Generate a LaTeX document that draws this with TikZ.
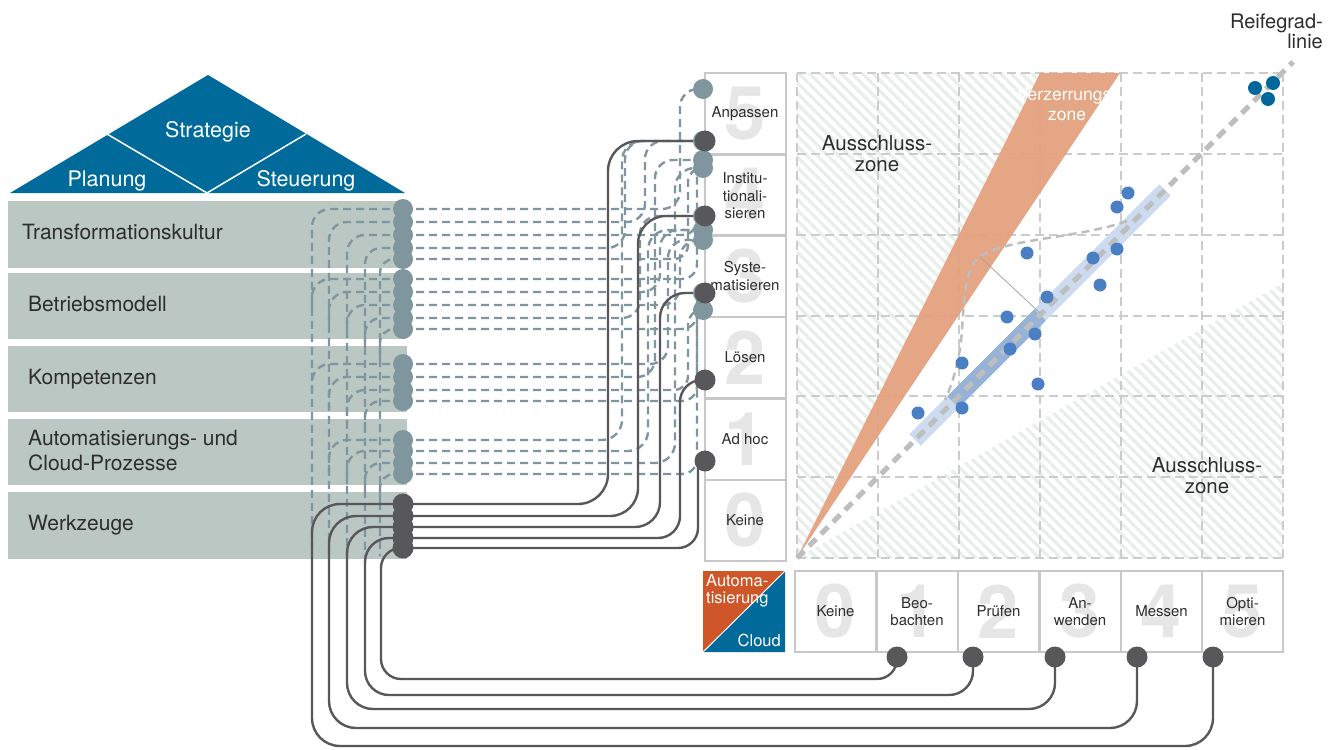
\documentclass[tikz,border=0pt]{standalone}
\usepackage{fontspec}
\setmainfont{TeX Gyre Heros}
\usetikzlibrary{patterns.meta}
\definecolor{roofblue}{RGB}{0,106,155}
\definecolor{rowgrey}{RGB}{186,199,195}
\definecolor{dashc}{RGB}{128,150,159}
\definecolor{darkc}{RGB}{88,88,90}
\definecolor{boxc}{RGB}{200,200,200}
\definecolor{digitc}{RGB}{230,230,230}
\definecolor{gridc}{RGB}{204,204,204}
\definecolor{hatchc}{RGB}{233,238,236}
\definecolor{bandor}{RGB}{227,160,123}
\definecolor{autoor}{RGB}{207,86,40}
\definecolor{dotblue}{RGB}{75,127,196}
\definecolor{dotdark}{RGB}{0,103,156}
\definecolor{bandlight}{RGB}{205,219,240}
\definecolor{banddark}{RGB}{150,178,214}
\definecolor{txt}{RGB}{45,45,45}
\definecolor{reifec}{RGB}{190,190,190}
\tikzset{
 rowlabel/.style={anchor=west, text=txt, font=\fontsize{21}{25}\selectfont, align=left, inner sep=0pt},
 rooflabel/.style={text=white, font=\fontsize{21.5}{26}\selectfont, inner sep=0pt},
 lvlbox/.style={draw=boxc, line width=2pt, minimum width=81pt, minimum height=81pt, inner sep=0pt},
 boxlabel/.style={text=txt, font=\fontsize{15}{17.5}\selectfont, align=center, inner sep=0pt},
 bigdigit/.style={text=digitc, font=\fontsize{74}{74}\selectfont\bfseries, inner sep=0pt},
 dl/.style={draw=dashc, line width=2.4pt, dash pattern=on 8pt off 5pt},
 sl/.style={draw=darkc, line width=2.4pt},
 gdot/.style={circle, fill=dashc, minimum size=20pt, inner sep=0pt},
 ddot/.style={circle, fill=darkc, minimum size=21pt, inner sep=0pt},
 gridln/.style={draw=gridc, line width=2pt, dash pattern=on 9pt off 5pt},
 zonelabel/.style={text=txt, font=\fontsize{20.5}{21}\selectfont, align=center, inner sep=0pt},
 hatchfill/.style={pattern={Lines[angle=-45,distance=7.5pt,line width=3.2pt]}, pattern color=hatchc},
}
\begin{document}
\begin{tikzpicture}[x=1pt,y=-1pt]
\useasboundingbox (0,0) rectangle (1337,749);
\fill[white] (0,0) rectangle (1337,749);

% ---------- roof ----------
\fill[roofblue] (10,193) -- (208,75) -- (405,193) -- cycle;
\draw[white, line width=1.5pt] (107,134) -- (207,193) -- (306,134);
\node[rooflabel] (strat) at (208,132) {Strategie};
\node[rooflabel] (plan) at (107,181) {Planung};
\node[rooflabel] (steu) at (306,181) {Steuerung};

% ---------- rows ----------
\fill[rowgrey] (8,201) rectangle (406,268);
\fill[rowgrey] (8,273) rectangle (406,339);
\fill[rowgrey] (8,346) rectangle (407,412);
\fill[rowgrey] (8,419) rectangle (407,485);
\fill[rowgrey] (8,492) rectangle (407,559);
\node[rowlabel] (row1) at (22,232) {Transformationskultur};
\node[rowlabel] (row2) at (28,304) {Betriebsmodell};
\node[rowlabel] (row3) at (28,379) {Kompetenzen};
\node[rowlabel] (row4) at (28,451) {Automatisierungs- und\\Cloud-Prozesse};
\node[rowlabel] (row5) at (28,525) {Werkzeuge};

% ---------- chart ----------
\path[hatchfill] (797,558) -- (797,73) -- (1040,73) -- cycle;
\path[hatchfill] (797,558) -- (1283,283) -- (1283,558) -- cycle;
\foreach \x in {797,878,959,1040,1121,1202,1283} \draw[gridln] (\x,73) -- (\x,558);
\foreach \y in {73,154,235,315.5,396,477,558} \draw[gridln] (797,\y) -- (1283,\y);
\fill[bandor, opacity=0.93] (797,558) -- (1040,73) -- (1120,73) -- cycle;
\node[text=white, font=\fontsize{17.5}{20}\selectfont, align=center, inner sep=0pt] (verz) at (1067,104) {Verzerrungs-\\zone};
\node[zonelabel] (aus1) at (877,154) {Ausschluss-\\zone};
\node[zonelabel] (aus2) at (1207,476) {Ausschluss-\\zone};
\draw[bandlight, line width=16pt] (915,440) -- (1165,190);
\draw[banddark, line width=16pt] (953,402) -- (1040,315);
\draw[reifec, line width=5pt, dash pattern=on 10pt off 7pt] (797,558) -- (1293,62);
\draw[reifec, line width=2.5pt, dash pattern=on 8pt off 5pt] (1127,221) .. controls (1080,238) and (1010,238) .. (980,256) .. controls (965,268) and (964,300) .. (962,330) .. controls (960,360) and (952,385) .. (945,400);
\draw[black!35, line width=0.8pt] (980,257) -- (1040,313);
\foreach \p in {(918,413),(962,363),(962,408),(1007,317),(1010,349),(1027,253),(1035,334),(1038,384),(1047,297),(1093,258),(1100,285),(1117,249),(1117,207),(1128,193)}
  \fill[dotblue] \p circle (6.5pt);
\foreach \p in {(1255,88),(1273,83),(1268,99)}
  \fill[dotdark] \p circle (7pt);
\node[anchor=north east, text=txt, font=\fontsize{20}{20}\selectfont, align=right, inner sep=0pt] (reife) at (1323,14) {Reifegrad-\\linie};

% ---------- level boxes ----------
\foreach \n/\y/\d in {L5/114/5, L4/194.5/4, L3/276/3, L2/357.5/2, L1/439/1, L0/520/0}{
  \node[bigdigit] (dig\n) at (745,\y) {\d};
  \node[lvlbox] (\n) at (745,\y) {};
}
\node[boxlabel] (lab5) at (L5) {Anpassen};
\node[boxlabel] (lab4) at (745,196) {Institu-\\tionali-\\sieren};
\node[boxlabel] (lab3) at (L3) {Syste-\\matisieren};
\node[boxlabel] (lab2) at (L2) {Lösen};
\node[boxlabel] (lab1) at (L1) {Ad hoc};
\node[boxlabel] (lab0) at (L0) {Keine};

% ---------- bottom boxes ----------
\foreach \n/\x/\d in {B0/835.5/0, B1/917/1, B2/998.5/2, B3/1080/3, B4/1161.5/4, B5/1242.5/5}{
  \node[bigdigit] (dig\n) at (\x,611.5) {\d};
  \node[lvlbox] (\n) at (\x,611.5) {};
}
\node[boxlabel] (blab0) at (B0) {Keine};
\node[boxlabel] (blab1) at (B1) {Beo-\\bachten};
\node[boxlabel] (blab2) at (B2) {Prüfen};
\node[boxlabel] (blab3) at (B3) {An-\\wenden};
\node[boxlabel] (blab4) at (B4) {Messen};
\node[boxlabel] (blab5) at (B5) {Opti-\\mieren};

% automation / cloud square
\fill[autoor] (703,571) -- (785,571) -- (703,652) -- cycle;
\fill[roofblue] (785,571) -- (785,652) -- (703,652) -- cycle;
\draw[white, line width=1pt] (703,652) -- (785,571);
\node[anchor=north west, text=white, font=\fontsize{16.5}{17}\selectfont, align=left, inner sep=0pt] (autotxt) at (706,574) {Automa-\\tisierung};
\node[anchor=base east, text=white, font=\fontsize{16.5}{17}\selectfont, inner sep=0pt] (cloudtxt) at (781,646) {Cloud};

% ---------- dot coordinates ----------
\coordinate (t1a) at (403,209); \coordinate (t1b) at (403,222); \coordinate (t1c) at (403,235);
\coordinate (t1d) at (403,248); \coordinate (t1e) at (403,259);
\coordinate (t2a) at (403,279); \coordinate (t2b) at (403,292); \coordinate (t2c) at (403,305);
\coordinate (t2d) at (403,318); \coordinate (t2e) at (403,329);
\coordinate (t3a) at (403,364); \coordinate (t3b) at (403,377); \coordinate (t3c) at (403,390);
\coordinate (t3d) at (403,401);
\coordinate (t4a) at (403,440); \coordinate (t4b) at (403,451); \coordinate (t4c) at (403,463);
\coordinate (t4d) at (403,474);
\coordinate (w1) at (403,504); \coordinate (w2) at (403,516); \coordinate (w3) at (403,527);
\coordinate (w4) at (403,538); \coordinate (w5) at (403,548);
\coordinate (g89) at (703,89); \coordinate (g141) at (703,141); \coordinate (g160) at (703,160);
\coordinate (g168) at (703,168); \coordinate (g216) at (703,216); \coordinate (g230) at (703,230);
\coordinate (g240) at (703,240); \coordinate (g293) at (703,293); \coordinate (g310) at (703,310);
\coordinate (k141) at (705,141); \coordinate (k216) at (705,216); \coordinate (k293) at (705,293);
\coordinate (k380) at (705,380); \coordinate (k461) at (705,461);
\coordinate (b1) at (897,657); \coordinate (b2) at (973,657); \coordinate (b3) at (1055,657);
\coordinate (b4) at (1137,657); \coordinate (b5) at (1213,657);

% ---------- dashed connectors, left side ----------
\draw[dl, rounded corners=18pt] (t1a) -- (312,209) -- (312,556);
\draw[dl, rounded corners=18pt] (t1b) -- (329,222) -- (329,556);
\draw[dl, rounded corners=18pt] (t1c) -- (347,235) -- (347,556);
\draw[dl, rounded corners=16pt] (t1d) -- (365,248) -- (365,556);
\draw[dl, rounded corners=14pt] (t1e) -- (380,259) -- (380,556);
\draw[dl, rounded corners=18pt] (t2a) -- (312,279) -- (312,312);
\draw[dl, rounded corners=18pt] (t2b) -- (329,292) -- (329,325);
\draw[dl, rounded corners=18pt] (t2c) -- (347,305) -- (347,338);
\draw[dl, rounded corners=16pt] (t2d) -- (365,318) -- (365,351);
\draw[dl, rounded corners=14pt] (t2e) -- (380,329) -- (380,362);
\draw[dl, rounded corners=18pt] (t3a) -- (312,364) -- (312,397);
\draw[dl, rounded corners=18pt] (t3b) -- (329,377) -- (329,410);
\draw[dl, rounded corners=18pt] (t3c) -- (347,390) -- (347,423);
\draw[dl, rounded corners=16pt] (t3d) -- (365,401) -- (365,434);
\draw[dl, rounded corners=18pt] (t4a) -- (329,440) -- (329,473);
\draw[dl, rounded corners=18pt] (t4b) -- (347,451) -- (347,484);
\draw[dl, rounded corners=16pt] (t4c) -- (365,463) -- (365,496);
\draw[dl, rounded corners=14pt] (t4d) -- (380,474) -- (380,507);

% ---------- dashed connectors, right side ----------
\draw[dl, rounded corners=18pt] (t1a) -- (680,209) -- (680,89) -- (g89);
\draw[dl, rounded corners=18pt] (t1b) -- (645,222) -- (645,141) -- (g141);
\draw[dl, rounded corners=15pt] (t1c) -- (697,235) -- (697,160);
\draw[dl, rounded corners=18pt] (t1d) -- (625,248) -- (625,141) -- (g141);
\draw[dl, rounded corners=14pt] (t1e) -- (688,259) -- (688,168) -- (g168);
\draw[dl, rounded corners=15pt] (t2a) -- (697,279) -- (697,216);
\draw[dl, rounded corners=18pt] (t2b) -- (660,292) -- (660,230) -- (g230);
\draw[dl, rounded corners=18pt] (t2c) -- (680,305) -- (680,240) -- (g240);
\draw[dl, rounded corners=18pt] (t2d) -- (640,318) -- (640,216) -- (g216);
\draw[dl, rounded corners=15pt] (t2e) -- (697,329) -- (697,293);
\draw[dl, rounded corners=18pt] (t3a) -- (668,364) -- (668,240) -- (g240);
\draw[dl, rounded corners=18pt] (t3b) -- (655,377) -- (655,160) -- (g160);
\draw[dl, rounded corners=14pt] (t3c) -- (688,390) -- (688,310) -- (g310);
\draw[dl, rounded corners=15pt] (t3d) -- (697,401) -- (697,310);
\draw[dl, rounded corners=20pt] (t4a) -- (622,440) -- (622,141) -- (g141);
\draw[dl, rounded corners=20pt] (t4b) -- (648,451) -- (648,230) -- (g230);
\draw[dl, rounded corners=20pt] (t4c) -- (675,463) -- (675,168) -- (g168);
\draw[dl, rounded corners=15pt] (t4d) -- (697,474) -- (697,310);

% ---------- solid connectors ----------
\draw[sl, rounded corners=30pt] (w1) -- (608,504) -- (608,141) -- (k141);
\draw[sl, rounded corners=28pt] (w2) -- (638,516) -- (638,216) -- (k216);
\draw[sl, rounded corners=25pt] (w3) -- (660,527) -- (660,293) -- (k293);
\draw[sl, rounded corners=22pt] (w4) -- (680,538) -- (680,380) -- (k380);
\draw[sl, rounded corners=20pt] (w5) -- (698,548) -- (698,461);
\draw[sl, rounded corners=28pt] (w1) -- (312,504) -- (312,746) -- (1213,746) -- (b5);
\draw[sl, rounded corners=27pt] (w2) -- (329,516) -- (329,728) -- (1137,728) -- (b4);
\draw[sl, rounded corners=26pt] (w3) -- (347,527) -- (347,709) -- (1055,709) -- (b3);
\draw[sl, rounded corners=24pt] (w4) -- (365,538) -- (365,695) -- (973,695) -- (b2);
\draw[sl, rounded corners=20pt] (w5) -- (381,548) -- (381,679) -- (897,679) -- (b1);

% ---------- dots ----------
\foreach \c in {t1a,t1b,t1c,t1d,t1e,t2a,t2b,t2c,t2d,t2e,t3a,t3b,t3c,t3d,t4a,t4b,t4c,t4d,g89,g141,g160,g168,g216,g230,g240,g293,g310}
  \node[gdot] (n\c) at (\c) {};
\foreach \c in {w1,w2,w3,w4,w5,k141,k216,k293,k380,k461,b1,b2,b3,b4,b5}
  \node[ddot] (n\c) at (\c) {};
\end{tikzpicture}
\end{document}
